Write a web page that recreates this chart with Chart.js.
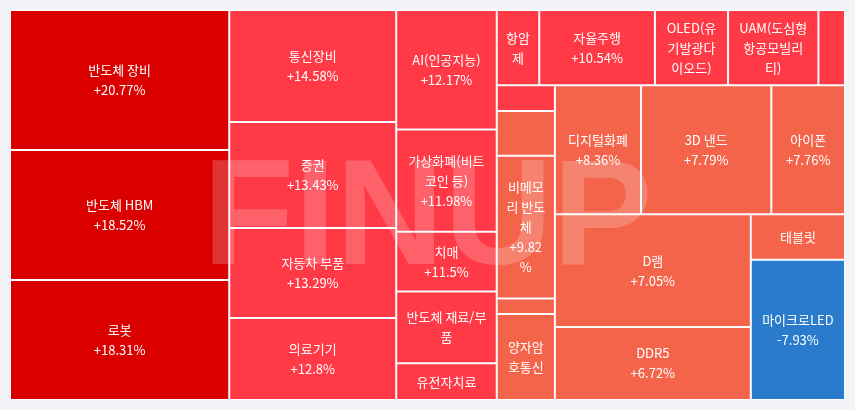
<!DOCTYPE html>
<html lang="ko">
<head>
<meta charset="utf-8">
<title>테마별 등락률</title>
<script src="https://cdn.jsdelivr.net/npm/chart.js@4.4.1/dist/chart.umd.min.js"></script>
<style>
  html, body { margin: 0; padding: 0; background: #f3f4f8; }
  #wrap { width: 855px; height: 410px; }
</style>
</head>
<body>
<div id="wrap"><canvas id="themeMap"></canvas></div>
<script>
// themes in rank order (by change); null = cell too small for a label
const themes = [
  '반도체 장비', '반도체 HBM', '로봇',
  '통신장비', '증권', '자동차 부품', '의료기기',
  'AI(인공지능)', '가상화폐(비트코인 등)', '치매', '반도체 재료/부품', '유전자치료',
  '항암제', '자율주행', 'OLED(유기발광다이오드)', 'UAM(도심형항공모빌리티)', null,
  null, null, '비메모리 반도체', null, '양자암호통신',
  '디지털화폐', '3D 낸드', '아이폰',
  'D램', 'DDR5',
  '태블릿', '마이크로LED'
];
const changes = [
  20.77, 18.52, 18.31,
  14.58, 13.43, 13.29, 12.8,
  12.17, 11.98, 11.5, 11.31, 11.12,
  10.93, 10.54, 10.46, 10.32, 10.21,
  10.08, 9.91, 9.82, 9.53, 9.24,
  8.36, 7.79, 7.76,
  7.05, 6.72,
  6.48, -7.93
];
// cell size weights
const weights = [
  307, 285, 263,
  187, 177, 150, 137,
  120, 103, 60, 72, 37,
  32, 87, 55, 68, 20,
  15, 26, 83, 9, 50,
  111, 168, 95,
  221, 143,
  43, 132
];

function colorFor(v) {
  if (v < 0) return '#2a7bcb';
  if (v >= 15) return '#da0000';
  if (v >= 10) return '#ff3a46';
  return '#f4644b';
}

function fmt(v) {
  return (v > 0 ? '+' : '') + v + '%';
}

// squarified layout (same steps as d3.treemapSquarify, golden ratio)
function squarify(values, x0, y0, x1, y1) {
  const out = [];
  const ratio = (1 + Math.sqrt(5)) / 2;
  const n = values.length;
  let value = values.reduce((a, b) => a + b, 0);
  let i0 = 0, i1 = 0;
  while (i0 < n) {
    const dx = x1 - x0, dy = y1 - y0;
    let sum = values[i1++];
    let minV = sum, maxV = sum;
    const alpha = Math.max(dy / dx, dx / dy) / (value * ratio);
    let beta = sum * sum * alpha;
    let minRatio = Math.max(maxV / beta, beta / minV);
    for (; i1 < n; ++i1) {
      const v = values[i1];
      sum += v;
      if (v < minV) minV = v;
      if (v > maxV) maxV = v;
      beta = sum * sum * alpha;
      const r = Math.max(maxV / beta, beta / minV);
      if (r > minRatio) { sum -= v; break; }
      minRatio = r;
    }
    if (dx < dy) {
      const h = dy * sum / value;
      let x = x0;
      for (let i = i0; i < i1; i++) {
        const w = dx * values[i] / sum;
        out[i] = { x0: x, y0: y0, x1: x + w, y1: y0 + h };
        x += w;
      }
      y0 += h;
    } else {
      const w = dx * sum / value;
      let y = y0;
      for (let i = i0; i < i1; i++) {
        const h = dy * values[i] / sum;
        out[i] = { x0: x0, y0: y, x1: x0 + w, y1: y + h };
        y += h;
      }
      x0 += w;
    }
    value -= sum;
    i0 = i1;
  }
  return out;
}

class ThemeMapController extends Chart.DatasetController {
  static id = 'themeMap';
  static defaults = { datasetElementType: false, dataElementType: 'bar' };

  update(mode) {
    const meta = this._cachedMeta;
    this.updateElements(meta.data, 0, meta.data.length, mode);
  }

  updateElements(rects, start, count, mode) {
    const { xScale, yScale } = this._cachedMeta;
    const px0 = xScale.getPixelForValue(xScale.min);
    const px1 = xScale.getPixelForValue(xScale.max);
    const py0 = yScale.getPixelForValue(yScale.max);
    const py1 = yScale.getPixelForValue(yScale.min);
    const cells = squarify(weights, Math.min(px0, px1), Math.min(py0, py1),
                           Math.max(px0, px1), Math.max(py0, py1));
    for (let i = start; i < start + count; i++) {
      const c = cells[i];
      this.updateElement(rects[i], i, {
        x: (c.x0 + c.x1) / 2,
        y: c.y0,
        base: c.y1,
        width: c.x1 - c.x0,
        height: c.y1 - c.y0,
        horizontal: false,
        inflateAmount: 0,
        borderSkipped: {},
        options: this.resolveDataElementOptions(i, mode)
      }, mode);
    }
  }
}
Chart.register(ThemeMapController);

const LINE_H = 20;

function tokens(text) {
  return text.match(/[\uAC00-\uD7A3][)\]%]*|\s+|[^\s\uAC00-\uD7A3]+/g) || [];
}

function wrap(ctx, text, maxW) {
  const lines = [];
  let line = '';
  const push = () => { if (line.trim()) lines.push(line.trim()); line = ''; };
  tokens(text).forEach(tk => {
    if (ctx.measureText(line + tk).width <= maxW) { line += tk; return; }
    if (/^\s+$/.test(tk)) { push(); return; }
    if (line.trim()) push();
    if (ctx.measureText(tk).width <= maxW) { line = tk; return; }
    for (const ch of tk) {
      if (line && ctx.measureText(line + ch).width > maxW) push();
      line += ch;
    }
  });
  push();
  return lines;
}

const watermark = {
  id: 'watermark',
  afterDatasetsDraw(chart) {
    const { ctx, chartArea } = chart;
    ctx.save();
    ctx.font = 'bold 150px "Liberation Sans", Arial, sans-serif';
    ctx.fillStyle = 'rgba(255,255,255,0.2)';
    ctx.textAlign = 'center';
    ctx.textBaseline = 'alphabetic';
    ctx.fillText('FINUP', (chartArea.left + chartArea.right) / 2, (chartArea.top + chartArea.bottom) / 2 + 59);
    ctx.restore();
  }
};

const cellLabels = {
  id: 'cellLabels',
  afterDatasetsDraw(chart) {
    const ctx = chart.ctx;
    const meta = chart.getDatasetMeta(0);
    ctx.save();
    ctx.font = '13px "Noto Sans CJK KR", "Noto Sans", sans-serif';
    ctx.fillStyle = '#ffffff';
    ctx.textAlign = 'center';
    ctx.textBaseline = 'middle';
    meta.data.forEach((rect, i) => {
      if (!themes[i]) return;
      const { x, y, base, width } = rect.getProps(['x', 'y', 'base', 'width']);
      const h = Math.abs(base - y);
      const maxW = width - 15;
      const nameLines = wrap(ctx, themes[i], maxW);
      let lines = nameLines.concat(wrap(ctx, fmt(changes[i]), maxW));
      if (lines.length * LINE_H + 12 > h) lines = nameLines;
      if (lines.length * LINE_H + 12 > h) return;
      const cy = Math.min(y, base) + h / 2;
      lines.forEach((t, k) => {
        ctx.fillText(t, x, cy + (k - (lines.length - 1) / 2) * LINE_H);
      });
    });
    ctx.restore();
  }
};

new Chart(document.getElementById('themeMap'), {
  type: 'themeMap',
  data: {
    labels: themes.map(t => t || ''),
    datasets: [{
      data: weights,
      backgroundColor: c => colorFor(changes[c.dataIndex]),
      borderColor: '#ffffff',
      borderWidth: 1,
      borderRadius: 0
    }]
  },
  options: {
    responsive: true,
    maintainAspectRatio: false,
    animation: false,
    events: [],
    layout: { padding: 10 },
    scales: {
      x: { type: 'linear', display: false, min: 0, max: 1 },
      y: { type: 'linear', display: false, min: 0, max: 1 }
    },
    plugins: {
      legend: { display: false },
      tooltip: { enabled: false }
    }
  },
  plugins: [watermark, cellLabels]
});
</script>
</body>
</html>
